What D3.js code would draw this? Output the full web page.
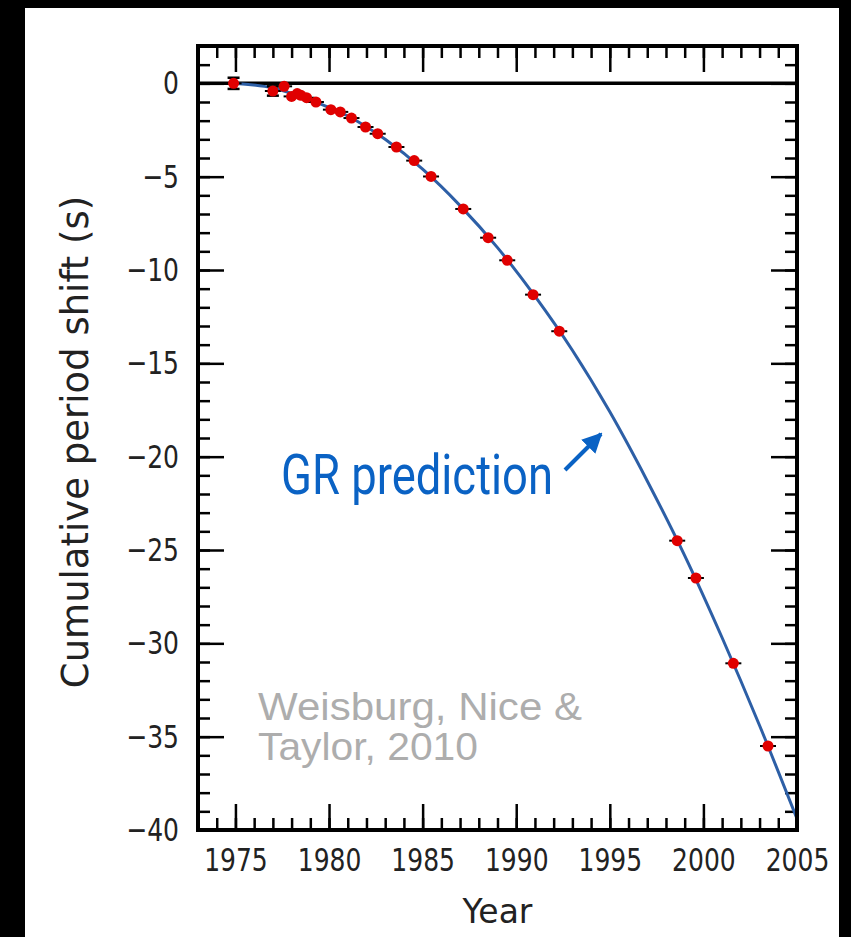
<!DOCTYPE html>
<html>
<head>
<meta charset="utf-8">
<script src="https://cdn.jsdelivr.net/npm/d3@7/dist/d3.min.js"></script>
<style>
  html, body { margin: 0; padding: 0; background: #000; }
  svg { display: block; }
</style>
</head>
<body>
<script>
// Observed cumulative periastron-time shift of PSR B1913+16 (seconds)
const obsYears = [1974.9, 1977.0, 1977.6, 1978.0, 1978.3, 1978.5, 1978.8, 1979.3, 1980.1, 1980.6,
                  1981.2, 1981.95, 1982.6, 1983.6, 1984.55, 1985.45, 1987.17, 1988.5, 1989.52,
                  1990.9, 1992.3, 1998.6, 1999.6, 2001.6, 2003.45];
const obsShift = [0.0, -0.41, -0.16, -0.70, -0.55, -0.64, -0.77, -1.0, -1.41, -1.53,
                  -1.86, -2.34, -2.70, -3.41, -4.14, -4.99, -6.73, -8.27, -9.48,
                  -11.32, -13.28, -24.5, -26.5, -31.07, -35.5];
const obsErr   = [0.3, 0.25, 0, 0, 0, 0, 0, 0, 0, 0,
                  0, 0, 0, 0, 0, 0, 0, 0, 0,
                  0, 0, 0, 0, 0, 0];

// General-relativity prediction curve
const grYears = [1974.9, 1977, 1979, 1981, 1983, 1985, 1987, 1989, 1991, 1993,
                 1995, 1997, 1999, 2001, 2003, 2005];
const grShift = [0.0, -0.25, -0.9, -1.75, -3.0, -4.6, -6.55, -8.8, -11.4, -14.3,
                 -17.6, -21.3, -25.3, -29.7, -34.4, -39.4];

// Axis ticks
const xMajor = [1975, 1980, 1985, 1990, 1995, 2000, 2005];
const xTickLabels = ["1975", "1980", "1985", "1990", "1995", "2000", "2005"];
const xMinor = d3.range(1973, 2006, 1);
const yMajor = [0, -5, -10, -15, -20, -25, -30, -35, -40];
const yTickLabels = ["0", "\u22125", "\u221210", "\u221215", "\u221220", "\u221225", "\u221230", "\u221235", "\u221240"];
const yMinor = d3.range(-40, 3, 1);

const W = 851, H = 937;
const svg = d3.select("body").append("svg").attr("width", W).attr("height", H);

// page background and white card
svg.append("rect").attr("width", W).attr("height", H).attr("fill", "#000");
svg.append("rect").attr("x", 25).attr("y", 8).attr("width", 814).attr("height", H - 8).attr("fill", "#fff");

const x = d3.scaleLinear().domain([1973, 2005]).range([198, 797]);
const y = d3.scaleLinear().domain([2, -40]).range([46, 830]);
const [x0, x1] = x.range();
const [y0, y1] = y.range();

const tickFont = "DejaVu Sans, sans-serif";
const stretch = 1.3;   // tall tick-label glyphs

// Minor ticks (inward, all four sides)
function styleTicks(g, w) {
  g.select(".domain").remove();
  g.selectAll(".tick line").attr("stroke", "#000").attr("stroke-width", w);
}
svg.append("g").attr("transform", `translate(0,${y1})`)
  .call(d3.axisBottom(x).tickValues(xMinor).tickSize(-12).tickFormat(""))
  .call(g => styleTicks(g, 2.5));
svg.append("g").attr("transform", `translate(0,${y0})`)
  .call(d3.axisTop(x).tickValues(xMinor).tickSize(-12).tickFormat(""))
  .call(g => styleTicks(g, 2.5));
svg.append("g").attr("transform", `translate(${x0},0)`)
  .call(d3.axisLeft(y).tickValues(yMinor).tickSize(-12).tickFormat(""))
  .call(g => styleTicks(g, 2.5));
svg.append("g").attr("transform", `translate(${x1},0)`)
  .call(d3.axisRight(y).tickValues(yMinor).tickSize(-12).tickFormat(""))
  .call(g => styleTicks(g, 2.5));

// Major ticks with labels
const xAxisB = svg.append("g").attr("transform", `translate(0,${y1})`)
  .call(d3.axisBottom(x).tickValues(xMajor).tickSize(-26).tickPadding(14)
        .tickFormat((d, i) => xTickLabels[i]))
  .call(g => styleTicks(g, 2.5));
xAxisB.selectAll("text")
  .attr("font-family", tickFont).attr("font-size", 25).attr("fill", "#222")
  .attr("transform", `scale(1,${stretch})`);

svg.append("g").attr("transform", `translate(0,${y0})`)
  .call(d3.axisTop(x).tickValues(xMajor).tickSize(-26).tickFormat(""))
  .call(g => styleTicks(g, 2.5));

const yAxisL = svg.append("g").attr("transform", `translate(${x0},0)`)
  .call(d3.axisLeft(y).tickValues(yMajor).tickSize(-26).tickPadding(19)
        .tickFormat((d, i) => yTickLabels[i]))
  .call(g => styleTicks(g, 2.5));
yAxisL.selectAll("text")
  .attr("font-family", tickFont).attr("font-size", 25).attr("fill", "#222")
  .attr("transform", `scale(1,${stretch})`);

svg.append("g").attr("transform", `translate(${x1},0)`)
  .call(d3.axisRight(y).tickValues(yMajor).tickSize(-26).tickFormat(""))
  .call(g => styleTicks(g, 2.5));

// zero line
svg.append("line")
  .attr("x1", x0).attr("x2", x1).attr("y1", y(0)).attr("y2", y(0))
  .attr("stroke", "#000").attr("stroke-width", 3.5);

// GR prediction curve
const grData = grYears.map((t, i) => ({ t, v: grShift[i] }));
svg.append("path")
  .datum(grData)
  .attr("fill", "none")
  .attr("stroke", "#2d5fa6")
  .attr("stroke-width", 3)
  .attr("d", d3.line().x(d => x(d.t)).y(d => y(d.v)).curve(d3.curveMonotoneX));

// observations: error bars and markers
const obs = obsYears.map((t, i) => ({ t, v: obsShift[i], e: obsErr[i] }));
const og = svg.append("g");
og.selectAll("line.hbar").data(obs).join("line").attr("class", "hbar")
  .attr("x1", d => x(d.t) - 8).attr("x2", d => x(d.t) + 8)
  .attr("y1", d => y(d.v)).attr("y2", d => y(d.v))
  .attr("stroke", "#000").attr("stroke-width", 2);
const withErr = obs.filter(d => d.e > 0);
og.selectAll("line.vbar").data(withErr).join("line").attr("class", "vbar")
  .attr("x1", d => x(d.t)).attr("x2", d => x(d.t))
  .attr("y1", d => y(d.v + d.e)).attr("y2", d => y(d.v - d.e))
  .attr("stroke", "#000").attr("stroke-width", 2);
og.selectAll("line.capT").data(withErr).join("line").attr("class", "capT")
  .attr("x1", d => x(d.t) - 6).attr("x2", d => x(d.t) + 6)
  .attr("y1", d => y(d.v + d.e)).attr("y2", d => y(d.v + d.e))
  .attr("stroke", "#000").attr("stroke-width", 2.5);
og.selectAll("line.capB").data(withErr).join("line").attr("class", "capB")
  .attr("x1", d => x(d.t) - 6).attr("x2", d => x(d.t) + 6)
  .attr("y1", d => y(d.v - d.e)).attr("y2", d => y(d.v - d.e))
  .attr("stroke", "#000").attr("stroke-width", 2.5);
og.selectAll("circle").data(obs).join("circle")
  .attr("cx", d => x(d.t)).attr("cy", d => y(d.v)).attr("r", 5.5)
  .attr("fill", "#e00000");

// frame
svg.append("rect")
  .attr("x", x0).attr("y", y0).attr("width", x1 - x0).attr("height", y1 - y0)
  .attr("fill", "none").attr("stroke", "#000").attr("stroke-width", 4);

// axis titles
svg.append("text")
  .attr("x", (x0 + x1) / 2).attr("y", 923)
  .attr("text-anchor", "middle")
  .attr("font-family", tickFont).attr("font-size", 33).attr("fill", "#222")
  .text("Year");

svg.append("text")
  .attr("transform", `translate(88,${(y0 + y1) / 2 + 4}) rotate(-90)`)
  .attr("text-anchor", "middle")
  .attr("font-family", tickFont).attr("font-size", 37).attr("fill", "#222")
  .text("Cumulative period shift (s)");

// annotation: GR prediction with arrow
const blue = "#0a62c4";
svg.append("text")
  .attr("x", 281).attr("y", 494)
  .attr("font-family", "Roboto, sans-serif").attr("font-size", 56).attr("fill", blue)
  .attr("textLength", 272).attr("lengthAdjust", "spacingAndGlyphs")
  .text("GR prediction");

const defs = svg.append("defs");
defs.append("marker")
  .attr("id", "ah").attr("viewBox", "0 0 10 10")
  .attr("refX", 9).attr("refY", 5)
  .attr("markerWidth", 5).attr("markerHeight", 5)
  .attr("orient", "auto")
  .append("path").attr("d", "M0,0 L10,5 L0,10 Z").attr("fill", blue);
svg.append("line")
  .attr("x1", 565).attr("y1", 470).attr("x2", 601).attr("y2", 434)
  .attr("stroke", blue).attr("stroke-width", 4)
  .attr("marker-end", "url(#ah)");

// citation
const cite = svg.append("text")
  .attr("font-family", "Liberation Sans, Arial, sans-serif")
  .attr("font-size", 39).attr("fill", "#adadad");
cite.append("tspan").attr("x", 258).attr("y", 720)
  .attr("textLength", 324).attr("lengthAdjust", "spacingAndGlyphs")
  .text("Weisburg, Nice &");
cite.append("tspan").attr("x", 258).attr("y", 760)
  .attr("textLength", 220).attr("lengthAdjust", "spacingAndGlyphs")
  .text("Taylor, 2010");
</script>
</body>
</html>
